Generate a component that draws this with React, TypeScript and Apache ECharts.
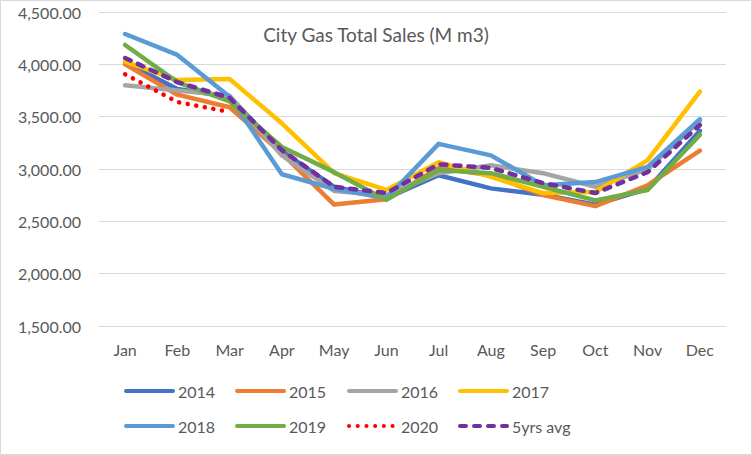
import React, { useEffect, useRef } from "react";
import * as echarts from "echarts";

const months = ["Jan", "Feb", "Mar", "Apr", "May", "Jun", "Jul", "Aug", "Sep", "Oct", "Nov", "Dec"];
const yTicks = { min: 1500, max: 4500, interval: 500 };

const s2014 = [4020, 3765, 3690, 3170, 2830, 2720, 2940, 2815, 2755, 2660, 2810, 3365];
const s2015 = [4000, 3710, 3590, 3150, 2660, 2710, 3010, 2940, 2750, 2645, 2845, 3175];
const s2016 = [3800, 3750, 3700, 3130, 2790, 2750, 2960, 3035, 2960, 2830, 3000, 3460];
const s2017 = [4025, 3850, 3860, 3437, 2960, 2800, 3065, 2925, 2770, 2780, 3085, 3740];
const s2018 = [4290, 4090, 3690, 2950, 2810, 2720, 3240, 3130, 2845, 2875, 3020, 3475];
const s2019 = [4185, 3830, 3645, 3210, 2970, 2705, 2990, 2960, 2830, 2700, 2800, 3325];
const s2020 = [3905, 3640, 3545];
const sAvg = [4060, 3830, 3680, 3180, 2830, 2770, 3045, 3010, 2865, 2770, 2970, 3420];

const seriesNames = ["2014", "2015", "2016", "2017", "2018", "2019", "2020", "5yrs avg"];
const seriesData = [s2014, s2015, s2016, s2017, s2018, s2019, s2020, sAvg];
const colors = ["#4472C4", "#ED7D31", "#A5A5A5", "#FFC000", "#5B9BD5", "#70AD47", "#FF0000", "#7030A0"];

const FONT = "Lato, 'Open Sans', sans-serif";

export default function App() {
  const ref = useRef<HTMLDivElement>(null);
  useEffect(() => {
    document.body.style.margin = "0";
    const chart = echarts.init(ref.current!, undefined, { renderer: "svg" });
    const legendX = [124, 235, 347, 458];
    const legendY = [383, 418];
    const lineTypes: any[] = ["solid", "solid", "solid", "solid", "solid", "solid", [0.1, 8.6], [6, 8]];
    const option: any = {
      animation: false,
      textStyle: { fontFamily: FONT },
      title: {
        text: "City Gas Total Sales (M m3)",
        left: "center",
        top: 20,
        textStyle: { fontFamily: FONT, fontSize: 19, fontWeight: "normal", color: "#595959" },
      },
      graphic: [
        {
          type: "rect",
          shape: { x: 0.5, y: 0.5, width: 751, height: 454 },
          style: { fill: "none", stroke: "#d9d9d9", lineWidth: 1 },
          silent: true,
        },
      ],
      legend: seriesNames.map((n, i) => ({
        data: [n],
        left: legendX[i % 4],
        top: legendY[Math.floor(i / 4)],
        padding: 0,
        itemWidth: 47,
        itemHeight: 16,
        itemGap: 0,
        itemStyle: { opacity: 0 },
        lineStyle: { width: 4, cap: "round" },
        textStyle: { fontFamily: FONT, fontSize: 16, color: "#595959" },
      })),
      grid: { left: 99, right: 26, top: 12, bottom: 129, containLabel: false },
      xAxis: {
        type: "category",
        data: months,
        boundaryGap: true,
        axisLine: { show: true, lineStyle: { color: "#d9d9d9", width: 1 } },
        axisTick: { show: false },
        axisLabel: { color: "#595959", fontSize: 16, fontFamily: FONT, margin: 15 },
      },
      yAxis: {
        type: "value",
        min: yTicks.min,
        max: yTicks.max,
        interval: yTicks.interval,
        axisLine: { show: false },
        axisTick: { show: false },
        splitLine: { lineStyle: { color: "#d9d9d9", width: 1 } },
        axisLabel: {
          color: "#595959",
          fontSize: 16,
          fontFamily: FONT,
          margin: 18,
          formatter: (v: number) =>
            v.toLocaleString("en-US", { minimumFractionDigits: 2, maximumFractionDigits: 2 }),
        },
      },
      series: seriesNames.map((n, i) => ({
        name: n,
        type: "line",
        data: seriesData[i],
        symbol: "none",
        color: colors[i],
        lineStyle: { color: colors[i], width: 4.5, type: lineTypes[i], cap: "round", join: "round" },
        itemStyle: { color: colors[i] },
        z: 2 + i,
      })),
    };
    chart.setOption(option);
    return () => chart.dispose();
  }, []);
  return <div ref={ref} style={{ width: 752, height: 455 }} />;
}
